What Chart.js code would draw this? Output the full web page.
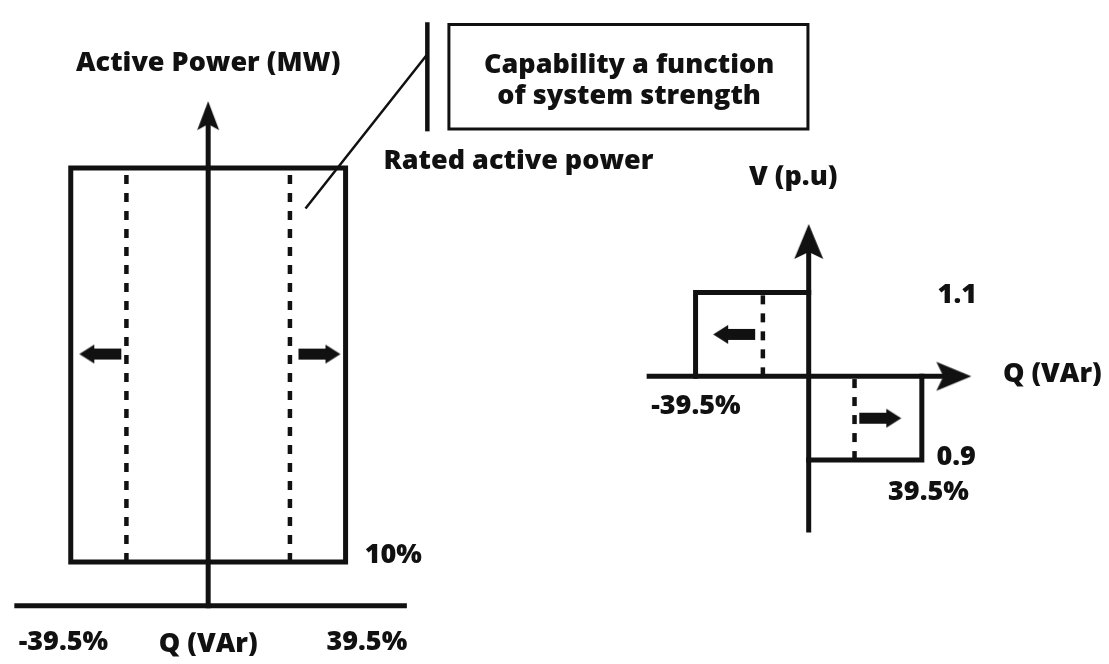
<!DOCTYPE html>
<html>
<head>
<meta charset="utf-8">
<script src="https://cdn.jsdelivr.net/npm/chart.js@4.4.1/dist/chart.umd.min.js"></script>
<style>
body { margin: 0; background: #fff; }
#wrap { width: 1109px; height: 664px; position: relative; }
</style>
</head>
<body>
<div id="wrap"><canvas id="myChart"></canvas></div>
<script type="text/javascript">

// ---- left diagram: P-Q capability (Q, P in % of rating) ----
const pqBoxQ = [-39.5, -39.5, 39.5, 39.5, -39.5];
const pqBoxP = [10, 100, 100, 10, 10];
const pqDashQ = [-23.5, 23.5];
const pqDashP = [10, 100];
const pqAxisQ = [-55, 56.4];
const pqAxisP = [0, 113];
const pqShiftQ = [-31, 32];
const pqShiftP = [57.5, 57.5];
// callout: leader line, rated power bar, note box
const leaderQ = [28.2, 63];
const leaderP = [91, 126];
const ratedBarP = [108.9, 132.8];
const noteQ = [69.2, 172.4, 172.4, 69.2, 69.2];
const noteP = [108.9, 108.9, 132.8, 132.8, 108.9];

// ---- right diagram: V-Q (Q in %, V in p.u.) ----
const vqUpperQ = [-39.5, -39.5, 0];
const vqUpperV = [1.0, 1.1, 1.1];
const vqLowerQ = [0, 39.5, 39.5];
const vqLowerV = [0.9, 0.9, 1.0];
const vqDashQ = [-16, 16];
const vqAxisQ = [-55.7, 53.3];
const vqAxisV = [0.8165, 1.17];
const vqShiftQ = [-26, 25];
const vqShiftV = [1.05, 0.95];

// text: [label, x, y, align]
const leftLabels = [
	["Active Power (MW)", 0, 122.2, "center"],
	["Rated active power", 50.4, 99.9, "left"],
	["Capability a function", 121, 121.8, "center"],
	["of system strength", 121, 114.6, "center"],
	["10%", 45, 9.7, "left"],
	["-39.5%", -41.6, -10.1, "center"],
	["Q (VAr)", 0, -10.6, "center"],
	["39.5%", 45.6, -10.1, "center"]
];
const rightLabels = [
	["V (p.u)", -5.4, 1.229, "center"],
	["1.1", 45, 1.088, "left"],
	["Q (VAr)", 67.8, 0.993, "left"],
	["-39.5%", -55, 0.955, "left"],
	["0.9", 44.6, 0.894, "left"],
	["39.5%", 27.7, 0.852, "left"]
];

const INK = "#111";
const FONT = "800 27px 'Open Sans'";

function pts(xs, ys){
	return xs.map((x, i) => ({x: x, y: ys[i]}));
}

function line(xs, ys, side, width, dash){
	return {
		data: pts(xs, ys),
		xAxisID: "x" + side,
		yAxisID: "y" + side,
		showLine: true,
		borderColor: INK,
		borderWidth: width,
		borderDash: dash || [],
		borderCapStyle: dash ? "butt" : "square",
		borderJoinStyle: "miter",
		pointRadius: 0,
		fill: false,
		clip: false
	};
}

// axis arrow head, tip sits 10px beyond the point
function makeHead(len, hw, notch){
	const s = 2 * (len + 12);
	const c = document.createElement("canvas");
	c.width = s; c.height = s;
	const g = c.getContext("2d");
	const m = s / 2, tip = m - 10;
	g.fillStyle = INK;
	g.beginPath();
	g.moveTo(m, tip);
	g.lineTo(m + hw, tip + len);
	g.lineTo(m, tip + len - notch);
	g.lineTo(m - hw, tip + len);
	g.closePath();
	g.fill();
	return c;
}

// block arrow pointing right, centred
function makeBlock(len, body, head, headLen){
	const c = document.createElement("canvas");
	c.width = len + 4; c.height = head + 4;
	const g = c.getContext("2d");
	const x0 = 2, y0 = c.height / 2;
	g.fillStyle = INK;
	g.beginPath();
	g.moveTo(x0, y0 - body / 2);
	g.lineTo(x0 + len - headLen, y0 - body / 2);
	g.lineTo(x0 + len - headLen, y0 - head / 2);
	g.lineTo(x0 + len, y0);
	g.lineTo(x0 + len - headLen, y0 + head / 2);
	g.lineTo(x0 + len - headLen, y0 + body / 2);
	g.lineTo(x0, y0 + body / 2);
	g.closePath();
	g.fill();
	return c;
}

const smallHead = makeHead(29, 11, 6);
const bigHead = makeHead(35, 14.5, 7);
const block = makeBlock(42, 11, 19, 15);

function marks(xs, ys, side, style, rot){
	return {
		data: pts(xs, ys),
		xAxisID: "x" + side,
		yAxisID: "y" + side,
		showLine: false,
		pointStyle: style,
		rotation: rot,
		pointRadius: 1,
		clip: false
	};
}

const labelPlugin = {
	id: "labels",
	afterDatasetsDraw(chart){
		const ctx = chart.ctx;
		ctx.save();
		ctx.fillStyle = INK;
		ctx.font = FONT;
		ctx.textBaseline = "alphabetic";
		const draw = (list, side) => list.forEach(l => {
			ctx.textAlign = l[3];
			ctx.fillText(l[0], chart.scales["x" + side].getPixelForValue(l[1]), chart.scales["y" + side].getPixelForValue(l[2]));
		});
		draw(leftLabels, "L");
		draw(rightLabels, "R");
		ctx.restore();
	}
};

new Chart("myChart", {
	type: "scatter",
	data: {
		datasets: [
			line(pqBoxQ, pqBoxP, "L", 5),
			line([pqDashQ[0], pqDashQ[0]], pqDashP, "L", 4.5, [9, 9]),
			line([pqDashQ[1], pqDashQ[1]], pqDashP, "L", 4.5, [9, 9]),
			line(pqAxisQ, [0, 0], "L", 5),
			line([0, 0], pqAxisP, "L", 5),
			line(leaderQ, leaderP, "L", 2.5),
			line([leaderQ[1], leaderQ[1]], ratedBarP, "L", 4.5),
			line(noteQ, noteP, "L", 3),
			marks([0], [pqAxisP[1]], "L", smallHead, [0]),
			marks(pqShiftQ, pqShiftP, "L", block, [180, 0]),

			line(vqUpperQ, vqUpperV, "R", 5),
			line(vqLowerQ, vqLowerV, "R", 5),
			line([vqDashQ[0], vqDashQ[0]], [1.0, 1.1], "R", 4.5, [9, 9]),
			line([vqDashQ[1], vqDashQ[1]], [0.9, 1.0], "R", 4.5, [9, 9]),
			line(vqAxisQ, [1, 1], "R", 5),
			line([0, 0], vqAxisV, "R", 5),
			marks([0, vqAxisQ[1]], [vqAxisV[1], 1], "R", bigHead, [0, 90]),
			marks(vqShiftQ, vqShiftV, "R", block, [180, 0])
		]
	},
	options: {
		responsive: true,
		maintainAspectRatio: false,
		animation: false,
		layout: { padding: 0 },
		plugins: { legend: { display: false }, tooltip: { enabled: false } },
		scales: {
			xL: { type: "linear", axis: "x", display: false, min: -58.4, max: 257.5 },
			yL: { type: "linear", axis: "y", display: false, min: -12.15, max: 137.25 },
			xR: { type: "linear", axis: "x", display: false, min: -280.6, max: 103.1 },
			yR: { type: "linear", axis: "y", display: false, min: 0.6624, max: 1.4435 }
		}
	},
	plugins: [labelPlugin]
});
</script>
</body>
</html>
